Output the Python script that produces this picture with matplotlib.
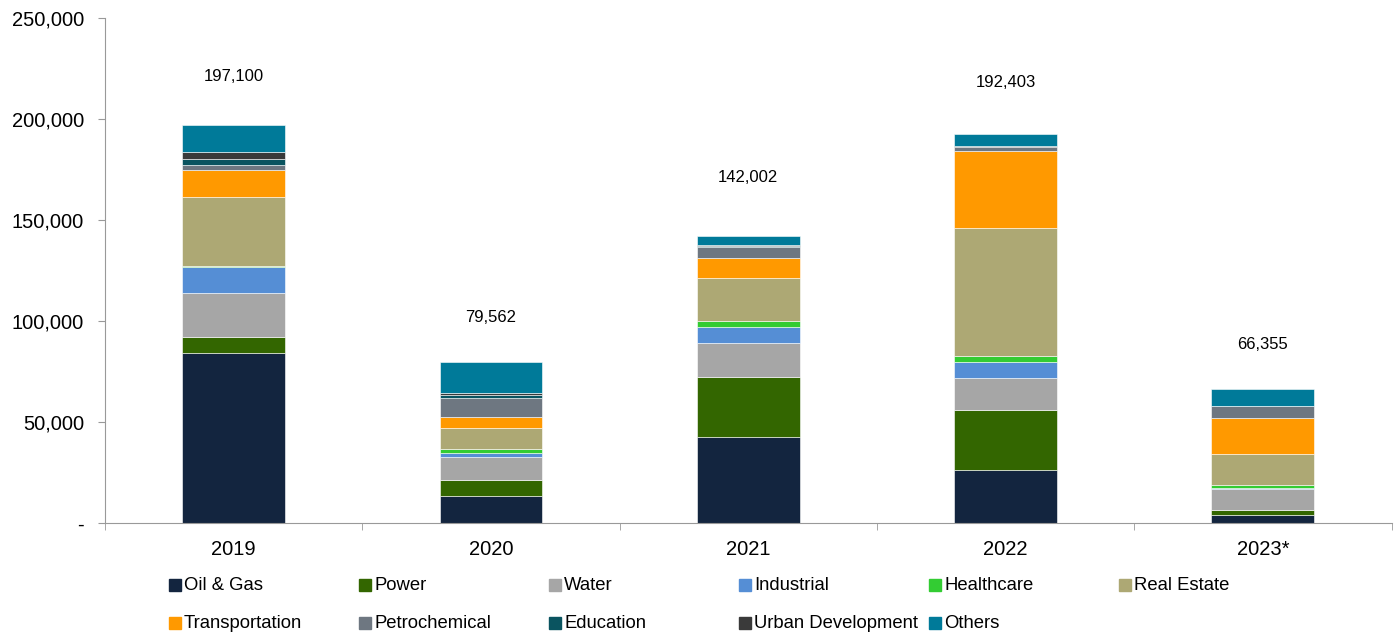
import matplotlib.pyplot as plt
from matplotlib.lines import Line2D
from matplotlib.ticker import FuncFormatter

plt.rcParams["font.family"] = ["Liberation Sans", "DejaVu Sans"]

years = ["2019", "2020", "2021", "2022", "2023*"]
totals = [197100, 79562, 142002, 192403, 66355]

# contract awards by sector, stacked bottom to top
sectors = ["Oil & Gas", "Power", "Water", "Industrial", "Healthcare", "Real Estate",
           "Transportation", "Petrochemical", "Education", "Urban Development", "Others"]
oil_gas = [84200, 13400, 42600, 26200, 3800]
power = [8000, 7900, 29700, 29700, 2800]
water = [21800, 11400, 16700, 15900, 10100]
industrial = [12800, 2000, 7900, 7900, 600]
healthcare = [300, 2000, 3200, 3000, 1300]
real_estate = [34300, 10500, 21300, 63200, 15800]
transportation = [13100, 5100, 9600, 38400, 17800]
petrochemical = [2600, 9400, 5500, 1700, 5600]
education = [3200, 1500, 600, 300, 0]
urban_dev = [3300, 1000, 500, 300, 0]
others = [13500, 15362, 4402, 5803, 8555]

series = [oil_gas, power, water, industrial, healthcare, real_estate,
          transportation, petrochemical, education, urban_dev, others]
colors = ["#13253f", "#336600", "#a6a6a6", "#558ed5", "#33cc33", "#ada874",
          "#ff9900", "#6e7781", "#0a5460", "#3a3a3a", "#007a99"]

fig = plt.figure(figsize=(14, 6.34), dpi=100)
ax = fig.add_axes([0.075, 0.175, 0.919, 0.797])

x = range(len(years))
bottom = [0] * len(years)
for vals, col in zip(series, colors):
    ax.bar(x, vals, width=0.4, bottom=bottom, color=col, edgecolor="white", linewidth=0.4)
    bottom = [b + v for b, v in zip(bottom, vals)]

# total labels float a little above each stack
label_gap = [23700, 21900, 28800, 25400, 21800]
for i, t in enumerate(totals):
    ax.text(i, t + label_gap[i], f"{t:,}", ha="center", va="center", fontsize=12)

ax.set_xlim(-0.5, 4.5)
ax.set_ylim(0, 250000)
ax.set_yticks(range(0, 250001, 50000))
ax.yaxis.set_major_formatter(FuncFormatter(lambda v, p: "-" if v == 0 else f"{int(v):,}"))
ax.set_xticks(list(x))
ax.set_xticklabels(years)
ax.set_xticks([i - 0.5 for i in range(len(years) + 1)], minor=True)
ax.tick_params(axis="x", which="major", length=0, pad=12, labelsize=14.5)
ax.tick_params(axis="x", which="minor", length=5, color="#999999")
ax.tick_params(axis="y", length=5, color="#999999", labelsize=14.5, pad=10)
for s in ["top", "right"]:
    ax.spines[s].set_visible(False)
for s in ["left", "bottom"]:
    ax.spines[s].set_color("#999999")

# legend laid out in a fixed 6-column grid, row by row
for k, (name, col) in enumerate(zip(sectors, colors)):
    row, c = divmod(k, 6)
    xm = (175 + 190 * c) / 1400
    ym = 1 - (585 + 38 * row) / 634
    fig.add_artist(Line2D([xm], [ym], marker="s", markersize=8, color=col,
                          linestyle="none", transform=fig.transFigure))
    fig.text(xm + 9 / 1400, ym, name, ha="left", va="center", fontsize=13.3)

fig.savefig("out.png")
